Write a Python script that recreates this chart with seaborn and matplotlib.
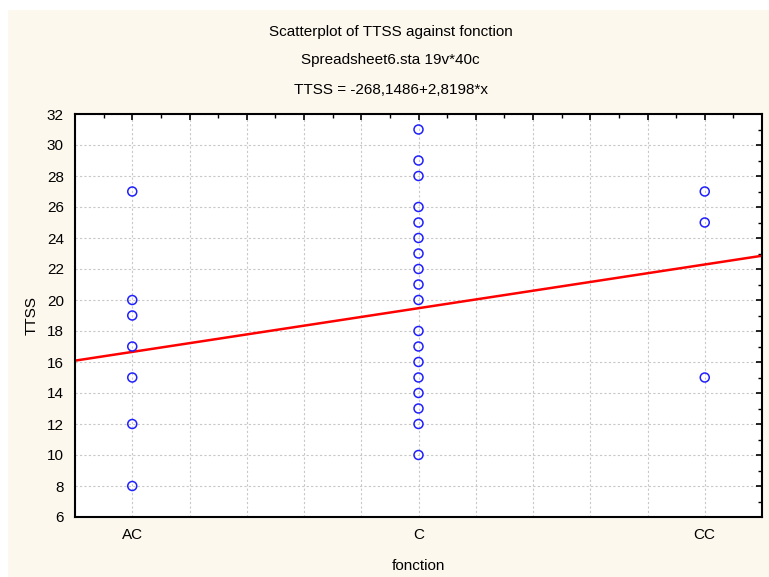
import numpy as np
import pandas as pd
import seaborn as sns
import matplotlib.pyplot as plt
from matplotlib.patches import Rectangle
from matplotlib.ticker import MultipleLocator

# categories and their numeric codes
categories = ["AC", "C", "CC"]
codes = [101, 102, 103]

# TTSS values read per category
ttss_ac = [27, 20, 19, 17, 15, 12, 8]
ttss_c = [31, 29, 28, 26, 25, 24, 23, 22, 21, 20, 18, 17, 16, 15, 14, 13, 12, 10]
ttss_cc = [27, 25, 15]

# regression coefficients
intercept = -268.1486
slope = 2.8198

x_min, x_max = 100.8, 103.2

df = pd.DataFrame({
    "fonction": [codes[0]] * len(ttss_ac) + [codes[1]] * len(ttss_c) + [codes[2]] * len(ttss_cc),
    "TTSS": ttss_ac + ttss_c + ttss_cc,
})

bg = "#fdf8ee"
sns.set_style("white")
plt.rcParams['font.family'] = ['Liberation Sans', 'DejaVu Sans']
plt.rcParams['text.color'] = 'black'
plt.rcParams['axes.labelcolor'] = 'black'
plt.rcParams['xtick.color'] = 'black'
plt.rcParams['ytick.color'] = 'black'

fig = plt.figure(figsize=(7.69, 5.77), dpi=100)
fig.patch.set_facecolor("white")
fig.patches.append(Rectangle((8 / 769, 0), 1, 1 - 10 / 577, transform=fig.transFigure,
                             facecolor=bg, edgecolor="none", zorder=-10))
ax = fig.add_axes([75 / 769, 1 - 517 / 577, (762 - 75) / 769, (517 - 114) / 577])
ax.set_facecolor("white")

# regression line
line_x = np.array([x_min, x_max])
sns.lineplot(x=line_x, y=intercept + slope * line_x, color="#ff0000", linewidth=1.8, ax=ax, zorder=2)

sns.scatterplot(data=df, x="fonction", y="TTSS", marker="o", s=42,
                facecolor="none", edgecolor="#2020ff", linewidth=1.1, ax=ax, zorder=3)

# ticks: major every 0.2, minor every 0.1, labels only at the category codes
major_x = np.round(np.arange(x_min, x_max + 0.01, 0.2), 1)
labels = []
for t in major_x:
    lab = ""
    for c, name in zip(codes, categories):
        if abs(t - c) < 1e-6:
            lab = name
    labels.append(lab)
ax.set_xticks(major_x)
ax.set_xticklabels(labels)
ax.xaxis.set_minor_locator(MultipleLocator(0.1))
ax.yaxis.set_major_locator(MultipleLocator(2))
ax.yaxis.set_minor_locator(MultipleLocator(1))
ax.set_xlim(x_min, x_max)
ax.set_ylim(6, 32)
ax.grid(True, which="major", color="#c8c8c8", linestyle=(0, (2, 2)), linewidth=0.8)
ax.set_axisbelow(True)

ax.tick_params(axis="both", which="both", direction="in", top=True, right=True,
               labelsize=11, color="black", pad=8)
ax.tick_params(which="major", length=4, width=1.2)
ax.tick_params(which="minor", length=3, width=1.0)
for s in ax.spines.values():
    s.set_color("black")
    s.set_linewidth(1.5)

ax.set_xlabel("fonction", fontsize=11, labelpad=12)
ax.set_ylabel("TTSS", fontsize=11, labelpad=6)

fig.text(0.508, 1 - 32 / 577, "Scatterplot of TTSS against fonction", ha="center", va="center", fontsize=11)
fig.text(0.508, 1 - 60 / 577, "Spreadsheet6.sta 19v*40c", ha="center", va="center", fontsize=11)
fig.text(0.508, 1 - 90 / 577, "TTSS = -268,1486+2,8198*x", ha="center", va="center", fontsize=11)

fig.savefig("out.png", dpi=100, facecolor=fig.get_facecolor())
